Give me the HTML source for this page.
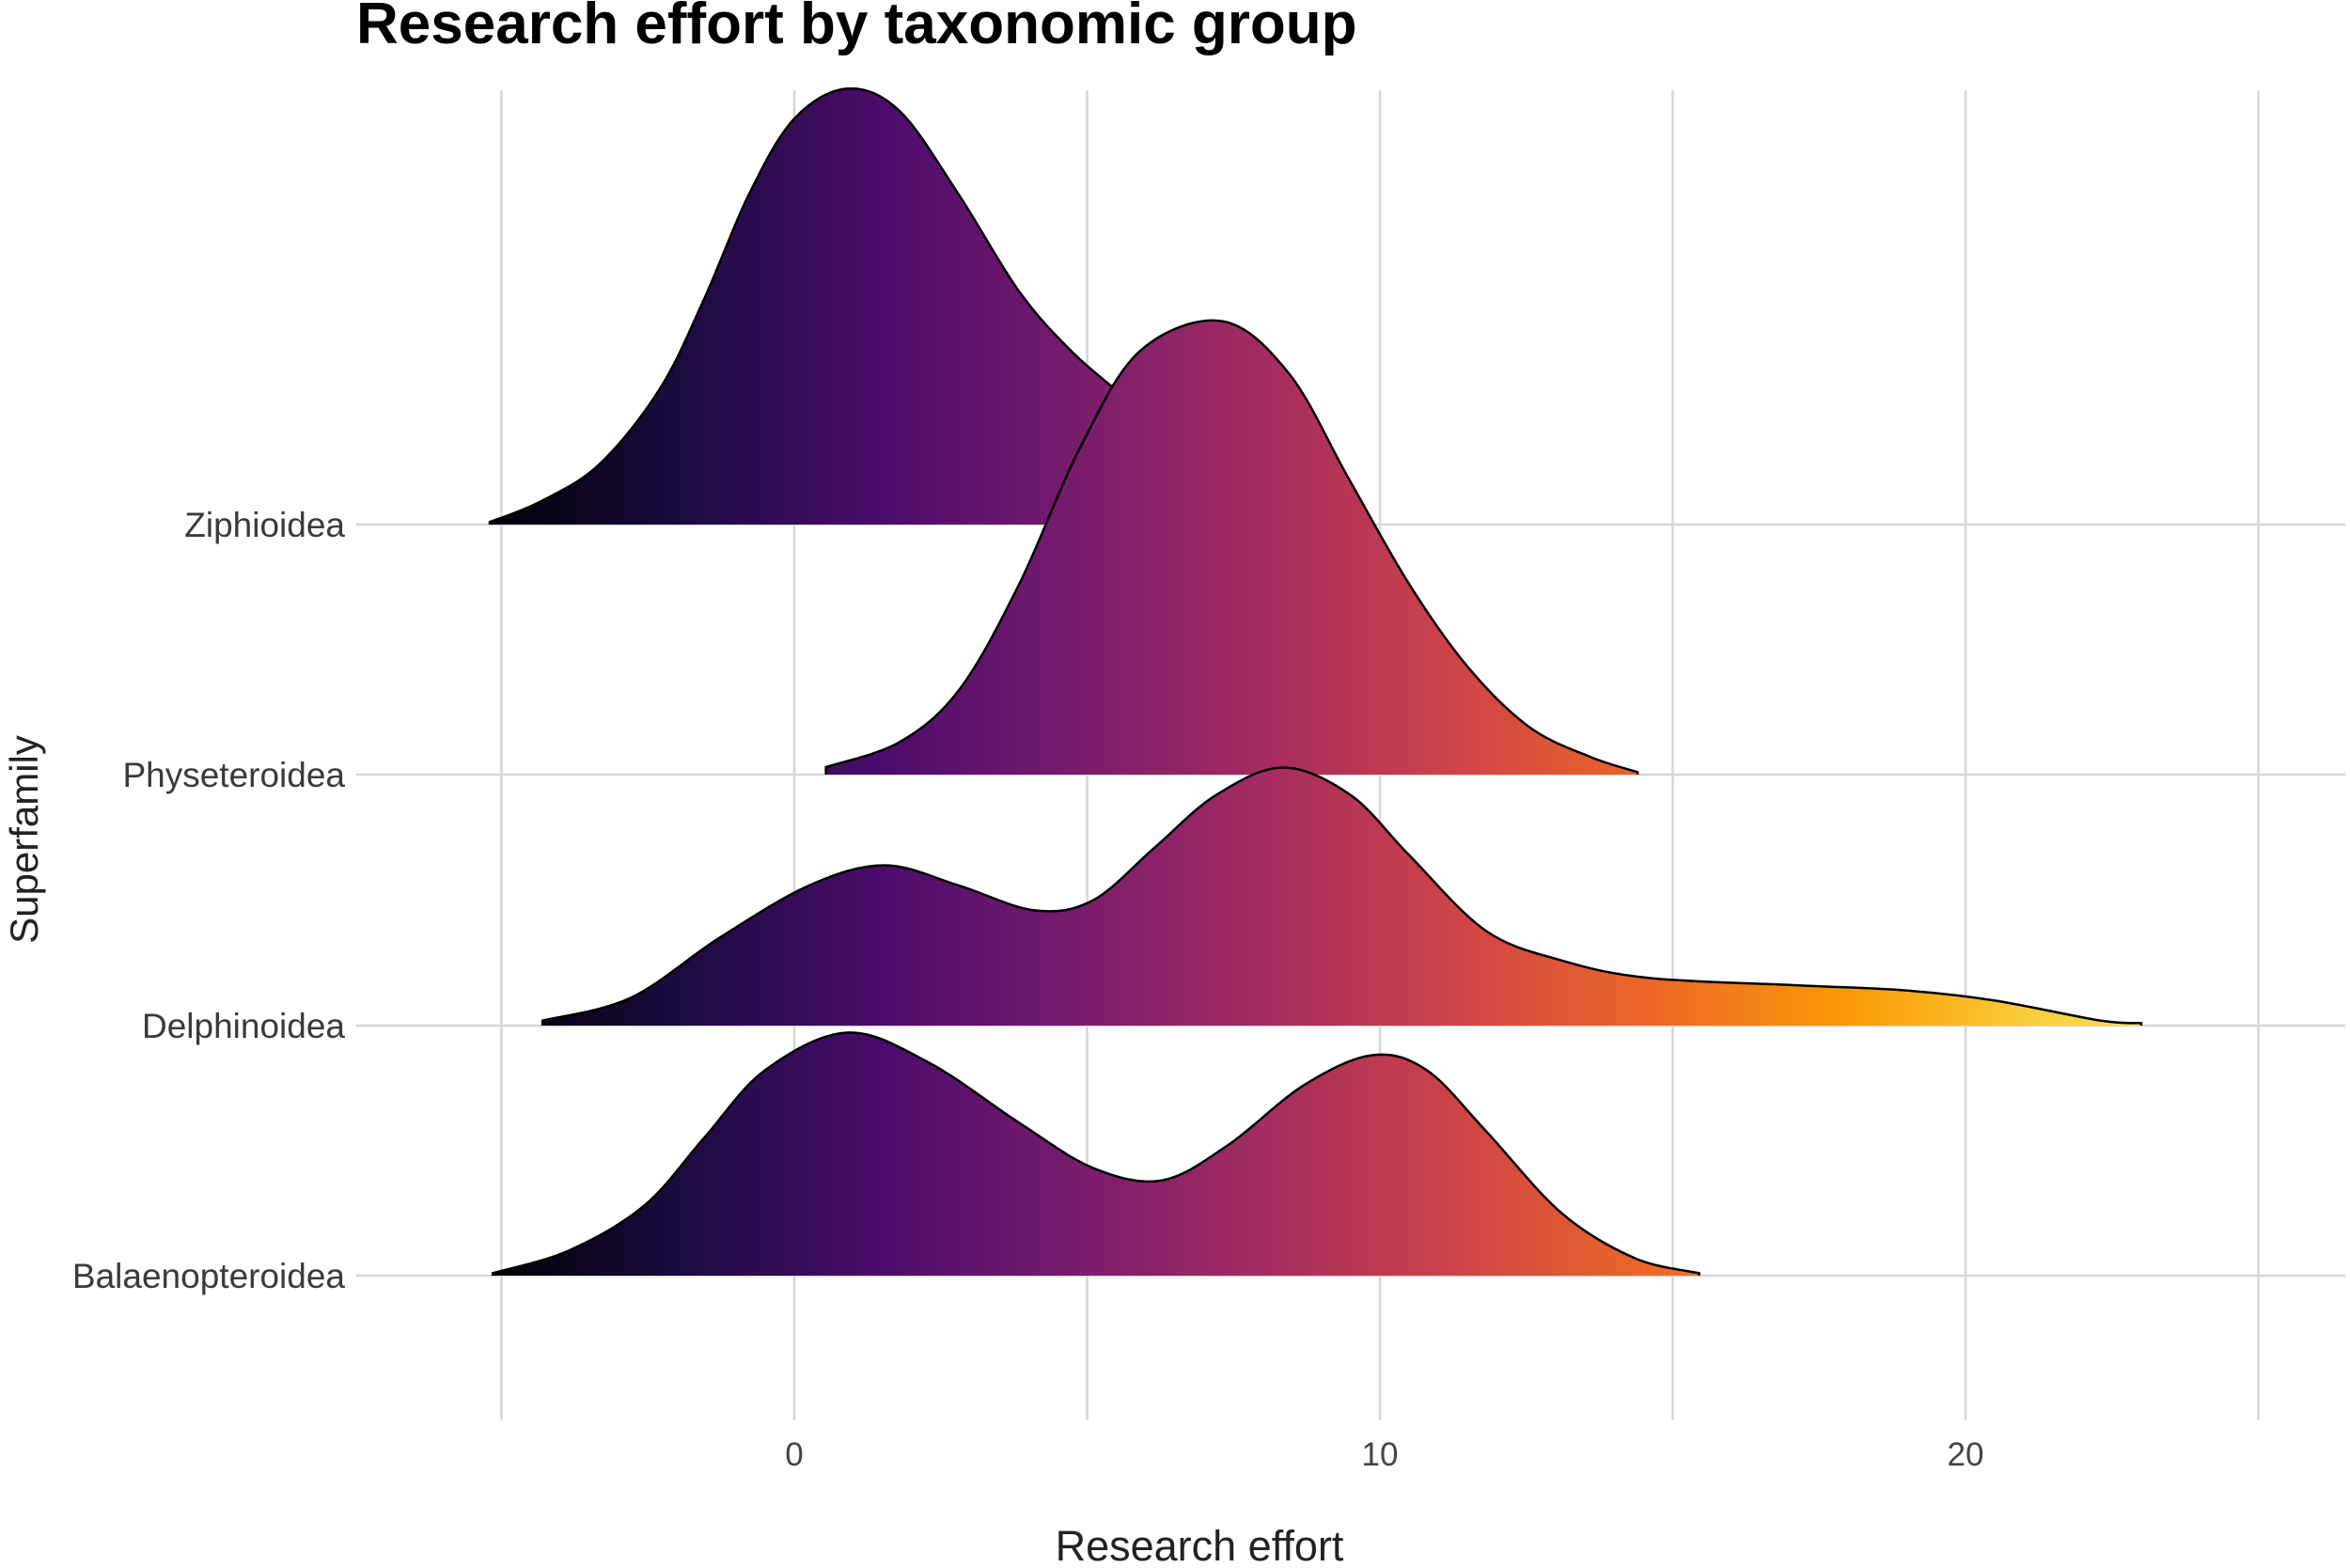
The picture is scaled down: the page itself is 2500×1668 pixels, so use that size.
<!DOCTYPE html>
<html><head><meta charset="utf-8"><style>
html,body{margin:0;padding:0;background:#fff;}
svg{display:block;}
text{font-family:"Liberation Sans",Arial,sans-serif;}
</style></head><body>
<svg id="chart" width="2500" height="1668" viewBox="0 0 2500 1668">
<defs>
<linearGradient id="inferno" gradientUnits="userSpaceOnUse" x1="0" y1="0" x2="100" y2="0">
<stop offset="0" stop-color="#000004"/><stop offset="0.1" stop-color="#1b0c41"/><stop offset="0.2" stop-color="#4a0c6b"/><stop offset="0.3" stop-color="#781c6d"/><stop offset="0.4" stop-color="#a52c60"/><stop offset="0.5" stop-color="#cf4446"/><stop offset="0.6" stop-color="#ed6925"/><stop offset="0.7" stop-color="#fb9b06"/><stop offset="0.8" stop-color="#f7d13d"/><stop offset="1" stop-color="#fcffa4"/>
</linearGradient>
</defs>
<g id="grid"></g>
<g id="ridges"></g>
<g id="axes"></g>
<text x="379" y="46" font-size="62" font-weight="bold" fill="#000">Research effort by taxonomic group</text>
<text x="1276" y="1660" font-size="45" fill="#222" text-anchor="middle">Research effort</text>
<text transform="translate(40,893) rotate(-90)" font-size="42" fill="#222" text-anchor="middle">Superfamily</text>
</svg>
<script>
const categories = ["Ziphioidea","Physeteroidea","Delphinoidea","Balaenopteroidea"];
const xTicks = [0,10,20];
const xGrid = [-5,0,5,10,15,20,25];
const zipX = [-5.2,-4.35,-3.33,-2.3,-1.54,-0.77,0,0.9,1.8,2.8,3.84,4.74,5.63,6.66,7.7,8.7,9.5];
const zipH = [0.01,0.09,0.24,0.54,0.9,1.32,1.62,1.74,1.65,1.32,0.93,0.69,0.51,0.30,0.15,0.06,0.01];
const phyX = [0.54,1.8,2.82,3.84,4.87,5.9,7.3,8.45,9.47,10.5,11.5,12.55,13.6,14.4];
const phyH = [0.03,0.13,0.34,0.76,1.30,1.69,1.81,1.60,1.18,0.76,0.43,0.19,0.07,0.01];
const delX = [-4.3,-2.8,-1.28,0.26,1.54,2.8,4.1,5.1,6.15,7.2,8.35,9.5,10.5,11.8,13.1,14.6,17.2,19,20.5,22.3,23];
const delH = [0.02,0.11,0.35,0.56,0.64,0.56,0.46,0.50,0.71,0.92,1.03,0.92,0.68,0.38,0.26,0.19,0.16,0.14,0.10,0.02,0.01];
const balX = [-5.15,-3.85,-2.56,-1.54,-0.5,0.9,2.3,3.84,5.1,6.27,7.4,8.7,9.87,10.8,11.8,13.1,14.35,15.45];
const balH = [0.01,0.10,0.28,0.55,0.82,0.97,0.85,0.61,0.43,0.38,0.52,0.76,0.88,0.82,0.58,0.25,0.07,0.01];

const NS="http://www.w3.org/2000/svg";
const x0px=845, unit=62.3;
const xs = v => x0px + v*unit;
const rowBase = [558,824,1091,1357];
const rowPx = 266.5;
const ys = (i,h) => rowBase[i] - h*rowPx;
const grad=document.getElementById('inferno');
grad.setAttribute('x1', xs(-5.2)); grad.setAttribute('x2', xs(28));

function mk(tag, attrs, parent){const e=document.createElementNS(NS,tag);for(const k in attrs)e.setAttribute(k,attrs[k]);parent.appendChild(e);return e;}
const grid=document.getElementById('grid');
xGrid.forEach(v=>{
  const l=mk('line',{x1:xs(v),x2:xs(v),y1:96,y2:1511,stroke:'#d6d6d6','stroke-width':2.5},grid);
  
  
});
categories.forEach((c,i)=>{
  const l=mk('line',{x1:379,x2:2495,y1:rowBase[i],y2:rowBase[i],stroke:'#d6d6d6','stroke-width':2.5},grid);
  
  
});
const axes=document.getElementById('axes');
xTicks.forEach(v=>{
  const t=mk('text',{x:xs(v),y:1559,'font-size':35,fill:'#444','text-anchor':'middle'},axes);
  t.textContent=v;
  
  
});
categories.forEach((c,i)=>{
  const t=mk('text',{x:367,y:rowBase[i]+13,'font-size':37,fill:'#3a3a3a','text-anchor':'end'},axes);
  t.textContent=c;
  
  
});
function curve(X,H,i){
  const P=X.map((x,k)=>[xs(x),ys(i,H[k])]);
  let d=`M${P[0][0]},${rowBase[i]} L${P[0][0]},${P[0][1]}`;
  for(let k=0;k<P.length-1;k++){
    const p0=P[Math.max(k-1,0)],p1=P[k],p2=P[k+1],p3=P[Math.min(k+2,P.length-1)];
    const c1=[p1[0]+(p2[0]-p0[0])/6,p1[1]+(p2[1]-p0[1])/6];
    const c2=[p2[0]-(p3[0]-p1[0])/6,p2[1]-(p3[1]-p1[1])/6];
    d+=` C${c1[0]},${c1[1]} ${c2[0]},${c2[1]} ${p2[0]},${p2[1]}`;
  }
  return {top:d, last:P[P.length-1][0], first:P[0][0]};
}
const ridges=document.getElementById('ridges');
const series=[[zipX,zipH],[phyX,phyH],[delX,delH],[balX,balH]];
const names=['ridge-ziphioidea','ridge-physeteroidea','ridge-delphinoidea','ridge-balaenopteroidea'];
series.forEach((s,i)=>{
  const c=curve(s[0],s[1],i);
  const f=mk('path',{d:c.top+` L${c.last},${rowBase[i]} Z`,fill:'url(#inferno)',stroke:'none'},ridges);
  
  
  const o=mk('path',{d:c.top+` L${c.last},${rowBase[i]}`,fill:'none',stroke:'#000','stroke-width':2.5},ridges);
  
  
});
</script>
</body></html>
